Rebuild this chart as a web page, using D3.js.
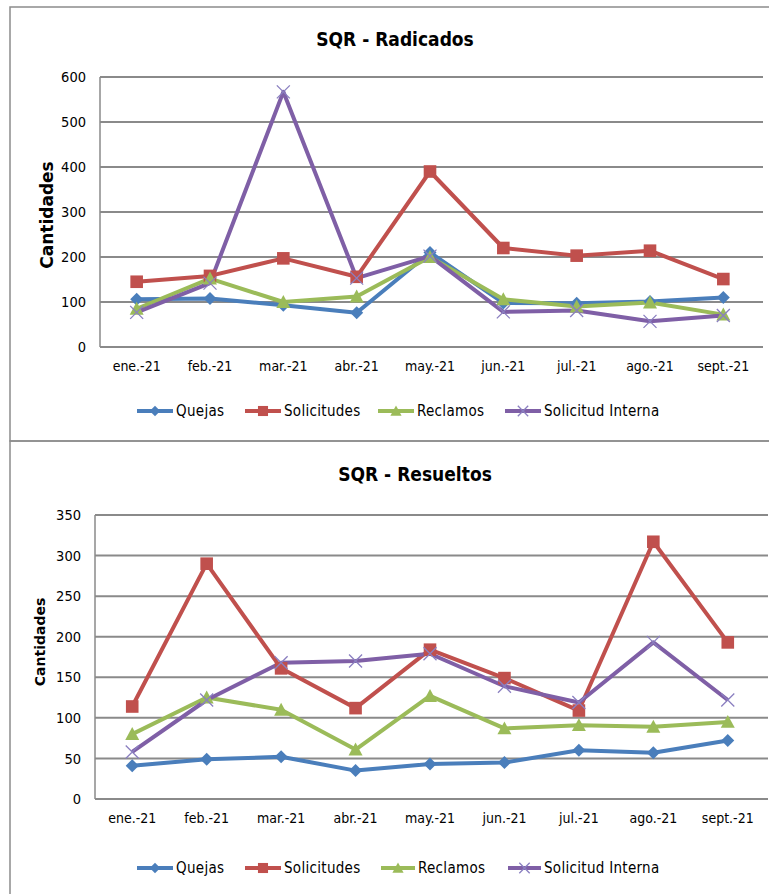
<!DOCTYPE html>
<html><head><meta charset="utf-8">
<script src="https://cdn.jsdelivr.net/npm/d3@7"></script>
<style>
html,body{margin:0;padding:0;background:#fff;}
svg{display:block;}
</style></head>
<body>
<svg id="chart" width="769" height="894"></svg>
<script>
const months = ["ene.-21","feb.-21","mar.-21","abr.-21","may.-21","jun.-21","jul.-21","ago.-21","sept.-21"];
const seriesNames = ["Quejas","Solicitudes","Reclamos","Solicitud Interna"];
const seriesColors = ["#4a7ebb","#c0504d","#9bbb59","#7f5fa6"];
const seriesMarkers = ["diamond","square","triangle","x"];

// SQR - Radicados
const radQuejas      = [106,108, 93, 76,210, 98, 97,101,110];
const radSolicitudes = [145,158,197,156,390,220,203,214,151];
const radReclamos    = [ 85,152,100,112,200,106, 90, 99, 72];
const radInterna     = [ 77,142,567,153,202, 78, 81, 57, 70];
const radTicks = [0,100,200,300,400,500,600];

// SQR - Resueltos
const resQuejas      = [ 41, 49, 52, 35, 43, 45, 60, 57, 72];
const resSolicitudes = [114,290,161,112,184,149,109,317,193];
const resReclamos    = [ 80,125,110, 61,127, 87, 91, 89, 95];
const resInterna     = [ 58,122,168,170,179,139,119,193,122];
const resTicks = [0,50,100,150,200,250,300,350];

const svg = d3.select("#chart");
const lblFont = "'DejaVu Sans Condensed','Liberation Sans Narrow',sans-serif";

function drawChart(cfg){
  const g = svg.append("g");
  g.append("rect").attr("x",cfg.box[0]).attr("y",cfg.box[1]).attr("width",cfg.box[2]).attr("height",cfg.box[3])
    .attr("fill","none").attr("stroke","#8c8c8c").attr("stroke-width",1.5);
  const x = d3.scaleBand().domain(months).range([cfg.left,cfg.right]);
  const y = d3.scaleLinear().domain([0,d3.max(cfg.ticks)]).range([cfg.bottom,cfg.top]);
  g.append("g").selectAll("line").data(cfg.ticks).join("line")
    .attr("x1",cfg.left).attr("x2",cfg.right+3).attr("y1",d=>y(d)).attr("y2",d=>y(d))
    .attr("stroke","#8a8a8a").attr("stroke-width",2);
  g.append("line").attr("x1",cfg.left).attr("x2",cfg.left).attr("y1",cfg.top).attr("y2",cfg.bottom)
    .attr("stroke","#8a8a8a").attr("stroke-width",1.5);
  const ya = d3.axisLeft(y).tickValues(cfg.ticks).tickSize(0).tickPadding(cfg.tickPad);
  const yg = g.append("g").attr("transform",`translate(${cfg.left},0)`).call(ya);
  yg.select(".domain").remove();
  yg.selectAll("text").attr("font-family",lblFont).attr("font-size",cfg.tickSize).attr("fill","#000");
  const xa = d3.axisBottom(x).tickSize(0).tickPadding(cfg.xPad);
  const xg = g.append("g").attr("transform",`translate(0,${cfg.bottom})`).call(xa);
  xg.select(".domain").remove();
  xg.selectAll("text").attr("font-family",lblFont).attr("font-size",cfg.xTickSize).attr("fill","#000");
  g.append("text").attr("x",cfg.titleX).attr("y",cfg.titleY).attr("text-anchor","middle")
    .attr("font-family",lblFont).attr("font-weight","bold").attr("font-size",cfg.titleSize).text(cfg.title);
  g.append("text").attr("transform",`translate(${cfg.ylabX},${cfg.ylabY}) rotate(-90)`).attr("text-anchor","middle")
    .attr("font-family","'DejaVu Sans',Verdana,sans-serif").attr("font-weight","bold").attr("font-size",cfg.ylabSize)
    .text("Cantidades");
  const line = d3.line().x((d,i)=>x(months[i])+x.bandwidth()/2).y(d=>y(d));
  cfg.series.forEach((vals,si)=>{
    g.append("path").datum(vals).attr("d",line).attr("fill","none")
      .attr("stroke",seriesColors[si]).attr("stroke-width",4).attr("stroke-linejoin","round");
  });
  cfg.series.forEach((vals,si)=>{
    const mg = g.append("g");
    vals.forEach((v,i)=>{
      drawMarker(mg, x(months[i])+x.bandwidth()/2, y(v), si, 1);
    });
  });
  const lg = g.append("g");
  cfg.legend.forEach((p,si)=>{
    lg.append("line").attr("x1",p[0]).attr("x2",p[1]).attr("y1",cfg.legY).attr("y2",cfg.legY)
      .attr("stroke",seriesColors[si]).attr("stroke-width",4);
    drawMarker(lg,(p[0]+p[1])/2,cfg.legY,si,0.8);
    lg.append("text").attr("x",p[1]+3).attr("y",cfg.legY).attr("dy","0.35em")
      .attr("font-family",lblFont).attr("font-size",cfg.legSize).attr("letter-spacing","0.3px").text(seriesNames[si]);
  });
}

function drawMarker(g,cx,cy,si,s){
  const c = seriesColors[si];
  const m = seriesMarkers[si];
  if(m==="diamond"){
    const r=6.5*s;
    g.append("path").attr("d",`M${cx},${cy-r}L${cx+r},${cy}L${cx},${cy+r}L${cx-r},${cy}Z`).attr("fill",c);
  } else if(m==="square"){
    const r=6.3*s;
    g.append("rect").attr("x",cx-r).attr("y",cy-r).attr("width",2*r).attr("height",2*r).attr("fill",c);
  } else if(m==="triangle"){
    const r=7*s;
    g.append("path").attr("d",`M${cx},${cy-r}L${cx+r},${cy+r*0.85}L${cx-r},${cy+r*0.85}Z`).attr("fill",c);
  } else {
    const r=6.5*s;
    g.append("path").attr("d",`M${cx-r},${cy-r}L${cx+r},${cy+r}M${cx-r},${cy+r}L${cx+r},${cy-r}`)
      .attr("stroke","#8a7fc0").attr("stroke-width",1.3).attr("fill","none");
  }
}

drawChart({
  box:[10,7,775,434], left:100, right:760, top:77, bottom:347, ticks:radTicks,
  series:[radQuejas,radSolicitudes,radReclamos,radInterna],
  title:"SQR - Radicados", titleX:395, titleY:46, titleSize:19,
  ylabX:53, ylabY:215, ylabSize:17, tickSize:14.5, xTickSize:14, tickPad:14, xPad:14,
  legY:411, legSize:15,
  legend:[[137,173],[245,281],[378,414],[505,541]]
});
drawChart({
  box:[10,441,775,460], left:95, right:765, top:515, bottom:799, ticks:resTicks,
  series:[resQuejas,resSolicitudes,resReclamos,resInterna],
  title:"SQR - Resueltos", titleX:415, titleY:481, titleSize:19,
  ylabX:45, ylabY:642, ylabSize:14, tickSize:14.5, xTickSize:14, tickPad:14, xPad:14,
  legY:868, legSize:15,
  legend:[[137,173],[245,281],[381,415],[508,541]]
});
</script>
</body></html>
